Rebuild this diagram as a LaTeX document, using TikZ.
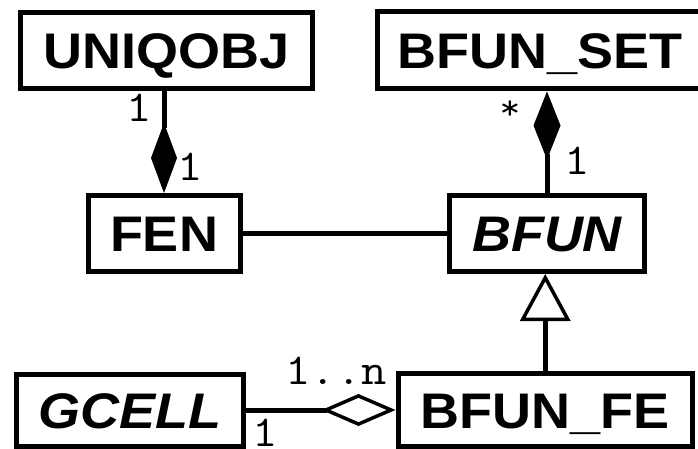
\documentclass[tikz,border=0pt]{standalone}
\usepackage{fontspec}
\usepackage{graphicx}
\usetikzlibrary{arrows.meta}
\newfontfamily\classfont{Liberation Sans}
\newcommand{\wide}[1]{\scalebox{1.08}[1]{#1}}
\newcommand{\widett}[1]{\scalebox{1.12}[1]{#1}}
\tikzset{
  classbox/.style={draw, line width=5pt, inner sep=0pt, fill=white,
    font=\classfont\bfseries\fontsize{50}{58}\selectfont,
    text height=36pt, text depth=0pt},
  mult/.style={inner sep=0pt, anchor=base,
    font=\ttfamily\fontsize{44}{48}\selectfont},
  link/.style={line width=5pt},
  compose/.style={-{Diamond[length=70pt,width=26pt,line width=1pt]}},
  composestart/.style={{Diamond[length=68pt,width=27pt,line width=1pt]}-},
  aggregate/.style={-{Diamond[open,length=74pt,width=32pt,line width=3.5pt,fill=white]}},
  inherit/.style={-{Triangle[open,length=47pt,width=50pt,line width=3.5pt,fill=white]}}
}
\begin{document}
\begin{tikzpicture}[x=1pt,y=-1pt]
  \useasboundingbox (0,0) rectangle (698,449);
  \clip (0,0) rectangle (698,449);

  % classes
  \node[classbox, minimum width=292pt, minimum height=76pt] (uniq) at (166.5,50.5) {\wide{UNIQOBJ}};
  \node[classbox, minimum width=325pt, minimum height=77pt] (bset) at (540,50.5) {\wide{BFUN\_SET}};
  \node[classbox, minimum width=152pt, minimum height=76pt] (fen) at (164,233.5) {\wide{FEN}};
  \node[classbox, minimum width=195pt, minimum height=76pt] (bfun) at (547,233.5) {\wide{\itshape BFUN}};
  \node[classbox, minimum width=226.5pt, minimum height=72pt] (gcell) at (129.75,410) {\wide{\itshape GCELL}};
  \node[classbox, minimum width=294.5pt, minimum height=73pt] (bfe) at (545.25,410) {\wide{BFUN\_FE}};

  % associations
  \draw[link, compose] (fen.north |- uniq.south) -- (fen.north);
  \draw[link, composestart] (bfun.north |- bset.south) -- (bfun.north);
  \draw[link] (fen.east) -- (bfun.west);
  \draw[link, inherit] (bfe.north) -- (bfe.north |- bfun.south);
  \draw[link, aggregate] (gcell.east) -- (bfe.west);

  % multiplicities
  \node[mult] (m1) at (139,122) {\widett{1}};
  \node[mult] (m2) at (190,180) {\widett{1}};
  \node[mult, font=\ttfamily\fontsize{36}{40}\selectfont] (m3) at (510,120) {\widett{*}};
  \node[mult] (m4) at (577,175) {\widett{1}};
  \node[mult] (m5) at (336,384) {\widett{1..n}};
  \node[mult] (m6) at (265,446) {\widett{1}};
\end{tikzpicture}
\end{document}
